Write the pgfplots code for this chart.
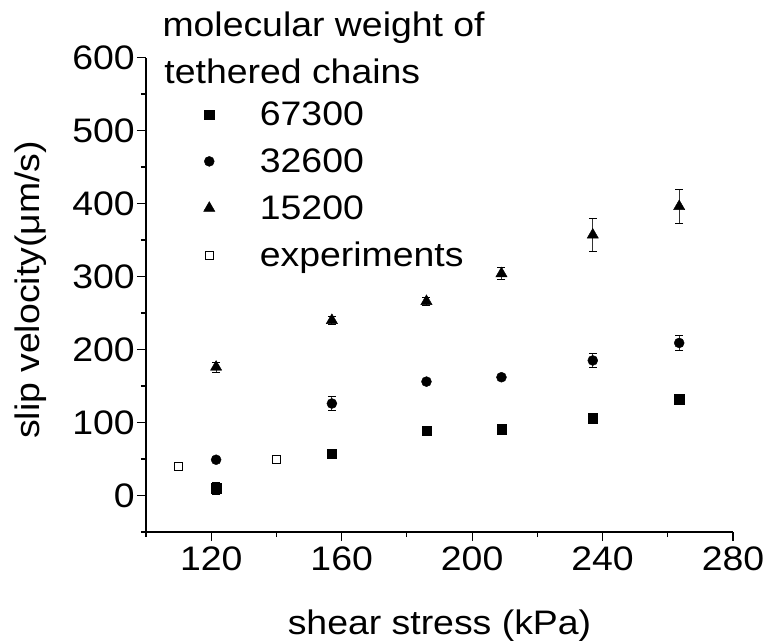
\documentclass[border=0pt]{standalone}
\usepackage{fontspec}
\setmainfont[FakeStretch=1.1]{Liberation Sans}
\usepackage{pgfplots}
\usepackage{pgfplotstable}
\pgfplotsset{compat=1.18}
\newcommand{\fs}{\fontsize{34bp}{40bp}\selectfont}

\pgfplotstableread{
x y e
121.5 10 8.5
157 57 0
186 89 0
209 91 0
237 106 0
263.5 132 0
}\dataA
\pgfplotstableread{
x y e
121.5 49 0
157 126 10
186 156 0
209 162 0
237 185 9
263.5 209 10
}\dataB
\pgfplotstableread{
x y e
121.5 176 7
157 240 6
186 266 5
209 304 8.5
237 357 23
263.5 396 23
}\dataC

\begin{document}
\begin{tikzpicture}
\begin{axis}[
 name=ax, scale only axis, width=587bp, height=474.5bp,
 xmin=100, xmax=280, ymin=-50, ymax=600,
 clip=false,
 axis lines*=left, axis line style={line width=1.1bp, -},
 tick align=outside, major tick length=9bp, minor tick length=5bp,
 every tick/.style={black, line width=1.1bp},
 xtick={120,160,200,240,280}, minor xtick={100,140,180,220,260},
 ytick={0,100,200,300,400,500,600}, minor ytick={-50,50,150,250,350,450,550},
 /pgf/number format/assume math mode=true,
 /pgf/number format/1000 sep={},
 tick label style={font=\fs},
 xticklabel style={inner sep=6bp},
 yticklabel style={inner sep=2bp},
 xlabel={shear stress (kPa)},
 ylabel={slip velocity(μm/s)},
 label style={font=\fs},
 xlabel style={at={(axis description cs:0.5,-0.198)}, anchor=center},
 ylabel style={at={(axis description cs:-0.197,0.51)}, anchor=center},
 legend style={at={(axis cs:116.7,542)}, anchor=north west, draw=none, fill=none,
   font=\fs, row sep=21.5bp, nodes={inner sep=0pt},
   /tikz/every odd column/.append style={column sep=45bp}},
 legend cell align=left,
 error bars/error bar style={line width=0.8bp, black!80},
 error bars/error mark options={rotate=90, mark size=4bp, line width=0.8bp, black},
]
\addplot[only marks, mark=square*, mark size=4.7bp, black,
  error bars/.cd, y dir=both, y explicit]
  table[x=x, y=y, y error=e] {\dataA};
\addlegendentry{67300}
\addplot[only marks, mark=*, mark size=5bp, black,
  error bars/.cd, y dir=both, y explicit]
  table[x=x, y=y, y error=e] {\dataB};
\addlegendentry{32600}
\addplot[only marks, mark=triangle*, mark size=6.5bp, black,
  error bars/.cd, y dir=both, y explicit]
  table[x=x, y=y, y error=e] {\dataC};
\addlegendentry{15200}
\addplot[only marks, mark=square, mark size=4bp, black, mark options={line width=0.9bp}]
  coordinates {(110,40) (140,50)};
\addlegendentry{experiments}
\node[anchor=base west, font=\fs, inner sep=0pt] at (axis cs:105.0,628.5) {molecular weight of};
\node[anchor=base west, font=\fs, inner sep=0pt] at (axis cs:105.6,565) {tethered chains};
\end{axis}
\pgfresetboundingbox
\path ([shift={(-146bp,-109bp)}]ax.south west) rectangle ([shift={(621bp,532bp)}]ax.south west);
\end{tikzpicture}
\end{document}
